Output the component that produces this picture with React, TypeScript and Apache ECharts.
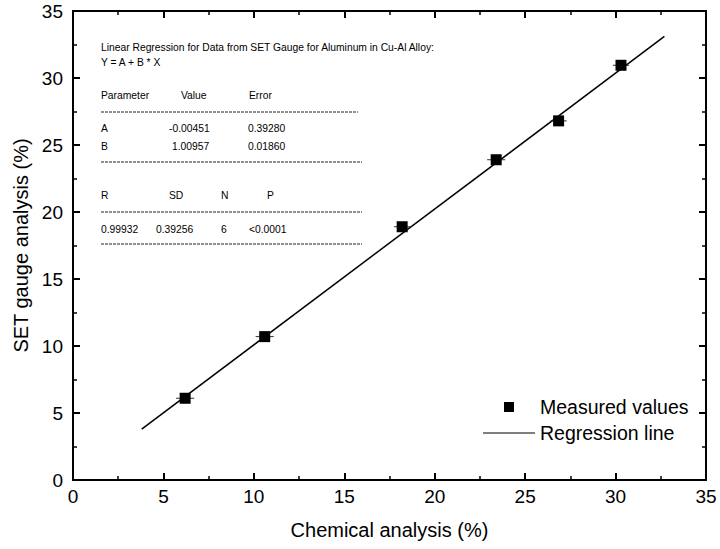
import React, { useEffect, useRef } from "react";
import * as echarts from "echarts";

const chemical = [6.2, 10.6, 18.2, 23.4, 26.85, 30.3];
const gauge = [6.1, 10.7, 18.9, 23.9, 26.8, 30.95];
const xError = [0.5, 0.5, 0.45, 0.5, 0.45, 0.45];
const regressionX = [3.8, 32.7];
const regressionY = [3.8, 33.1];

const headerLines = [
  "Linear Regression for Data from SET Gauge for Aluminum in Cu-Al Alloy:",
  "Y = A + B * X",
];
const paramHeader = ["Parameter", "Value", "Error"];
const paramRows = [
  ["A", "-0.00451", "0.39280"],
  ["B", "1.00957", "0.01860"],
];
const statHeader = ["R", "SD", "N", "P"];
const statRow = ["0.99932", "0.39256", "6", "<0.0001"];

const FONT = "'Liberation Sans', Arial, sans-serif";

export default function App() {
  const ref = useRef<HTMLDivElement>(null);
  useEffect(() => {
    document.body.style.margin = "0";
    if (!ref.current) return;
    const chart = echarts.init(ref.current, null, { renderer: "svg" });
    const txt = (x: number, y: number, s: string) => ({
      type: "text",
      x,
      y,
      style: { text: s, fill: "#000", font: `10.3px ${FONT}`, textVerticalAlign: "middle" },
    });
    const hline = (y: number, x2: number) => ({
      type: "line",
      shape: { x1: 101, y1: y, x2, y2: y },
      style: { stroke: "#222", lineWidth: 1, lineDash: [3, 1] },
    });
    const paramX = [101, 169, 248];
    const paramHeadX = [101, 181, 249];
    const statX = [101, 169, 221, 267];
    const statValX = [101, 156, 221, 249];
    const graphics: any[] = [
      txt(101, 47, headerLines[0]),
      txt(101, 62, headerLines[1]),
      ...paramHeader.map((s, i) => txt(paramHeadX[i], 95, s)),
      hline(112, 358),
      ...paramRows[0].map((s, i) => txt(paramX[i], 128, s)),
      ...paramRows[1].map((s, i) => txt(paramX[i] + (i === 1 ? 3 : 0), 146, s)),
      hline(162, 362),
      ...statHeader.map((s, i) => txt(statX[i], 195, s)),
      hline(212, 362),
      ...statRow.map((s, i) => txt(statValX[i], 229, s)),
      hline(244, 362),
    ];
    const axisCommon = {
      min: 0,
      max: 35,
      interval: 5,
      axisLine: { show: true, onZero: false, lineStyle: { color: "#000", width: 2 } },
      axisTick: { show: true, inside: true, length: 7, lineStyle: { color: "#000", width: 2 } },
      minorTick: { show: true, splitNumber: 2, length: 4, lineStyle: { color: "#000", width: 1.5 } },
      splitLine: { show: false },
    };
    chart.setOption({
      animation: false,
      backgroundColor: "#fff",
      textStyle: { fontFamily: FONT },
      grid: { left: 73, right: 14, top: 11, bottom: 69 },
      legend: {
        left: 478,
        top: 392,
        orient: "vertical",
        itemWidth: 52,
        itemHeight: 10,
        itemGap: 6,
        textStyle: { fontSize: 19.5, color: "#000", fontFamily: FONT },
        data: [
          { name: "Measured values", icon: "path://M0,0h10v10h-10z" },
          { name: "Regression line", icon: "path://M0,0h52v1.2h-52z" },
        ],
      },
      xAxis: [
        {
          ...axisCommon,
          type: "value",
          position: "bottom",
          name: "Chemical analysis (%)",
          nameLocation: "middle",
          nameGap: 40,
          nameTextStyle: { fontSize: 20, color: "#000", fontFamily: FONT },
          axisLabel: { fontSize: 19, color: "#000", margin: 7, fontFamily: FONT },
        },
        {
          ...axisCommon,
          type: "value",
          position: "top",
          axisLabel: { show: false },
        },
      ],
      yAxis: [
        {
          ...axisCommon,
          type: "value",
          position: "left",
          name: "SET gauge analysis (%)",
          nameLocation: "middle",
          nameGap: 38,
          nameTextStyle: { fontSize: 20, color: "#000", fontFamily: FONT },
          axisLabel: { fontSize: 19, color: "#000", margin: 10, fontFamily: FONT },
        },
        {
          ...axisCommon,
          type: "value",
          position: "right",
          axisLabel: { show: false },
        },
      ],
      series: [
        {
          name: "Regression line",
          type: "line",
          data: regressionX.map((x, i) => [x, regressionY[i]]),
          showSymbol: false,
          symbol: "none",
          lineStyle: { color: "#000", width: 1.5 },
          itemStyle: { color: "#000" },
          z: 2,
        },
        {
          name: "errors",
          type: "custom",
          data: chemical.map((x, i) => [x, gauge[i], xError[i]]),
          renderItem: (params: any, api: any) => {
            const x = api.value(0);
            const y = api.value(1);
            const e = api.value(2);
            const p1 = api.coord([x - e, y]);
            const p2 = api.coord([x + e, y]);
            return {
              type: "line",
              shape: { x1: p1[0], y1: p1[1], x2: p2[0], y2: p2[1] },
              style: { stroke: "#333", lineWidth: 1 },
            };
          },
          z: 3,
        },
        {
          name: "Measured values",
          type: "scatter",
          data: chemical.map((x, i) => [x, gauge[i]]),
          symbol: "rect",
          symbolSize: 11,
          itemStyle: { color: "#000", opacity: 1 },
          z: 4,
        },
      ],
      graphic: graphics,
    });
    return () => chart.dispose();
  }, []);
  return <div ref={ref} style={{ width: 720, height: 549 }} />;
}
